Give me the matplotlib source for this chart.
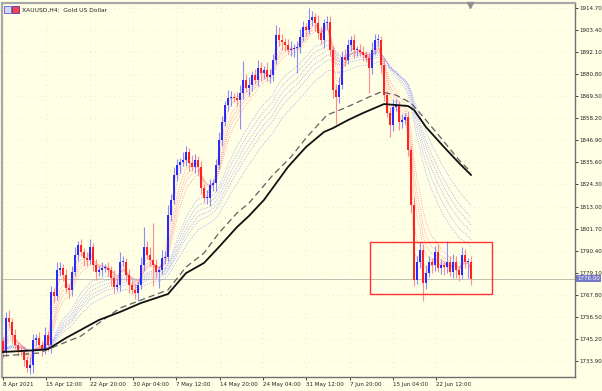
import matplotlib
matplotlib.use("Agg")
import matplotlib.pyplot as plt
import matplotlib.patches as patches
import pandas as pd

closes = [
    1738.5, 1755.9, 1753.9, 1747.2, 1742.1, 1739.5, 1738.5, 1734.4, 1730.3, 1731.8,
    1744.6, 1745.7, 1742.1, 1739.5, 1747.2, 1742.1, 1769.2, 1767.2, 1780.5, 1781.5,
    1777.9, 1771.3, 1770.3, 1779.5, 1788.2, 1793.3, 1789.7, 1786.6, 1785.6, 1792.3,
    1783.1, 1779.5, 1780.5, 1781.5, 1781.5, 1780.5, 1776.4, 1771.8, 1772.8, 1784.6,
    1784.6, 1777.9, 1772.8, 1770.3, 1768.7, 1772.8, 1783.1, 1792.3, 1788.2, 1785.6,
    1783.1, 1779.5, 1780.5, 1786.6, 1787.2, 1808.7, 1816.4, 1829.2, 1834.3, 1835.8,
    1836.8, 1840.9, 1835.3, 1833.3, 1836.8, 1833.3, 1822.5, 1817.4, 1817.4, 1824.0,
    1825.1, 1834.3, 1847.1, 1856.3, 1865.0, 1868.6, 1869.1, 1868.6, 1867.6, 1871.2,
    1877.8, 1873.7, 1875.3, 1880.4, 1877.8, 1884.0, 1881.4, 1882.9, 1879.4, 1880.4,
    1888.1, 1900.9, 1898.3, 1897.3, 1895.7, 1893.2, 1893.7, 1894.2, 1894.7, 1899.8,
    1905.0, 1903.4, 1908.6, 1910.1, 1907.0, 1901.9, 1898.3, 1907.0, 1907.5, 1893.2,
    1872.7, 1869.1, 1875.3, 1889.6, 1888.1, 1895.7, 1898.3, 1893.2, 1893.2, 1892.2,
    1890.6, 1889.1, 1884.0, 1893.2, 1898.3, 1898.3, 1885.5, 1870.1, 1860.9, 1854.8,
    1864.0, 1865.0, 1856.3, 1857.3, 1858.9, 1842.0, 1813.8, 1775.4, 1784.6, 1790.7,
    1773.8, 1779.0, 1784.6, 1783.1, 1789.7, 1781.5, 1783.1, 1782.0, 1784.6, 1779.5,
    1784.6, 1780.5, 1777.9, 1788.2, 1784.6, 1784.6, 1776.0,
]
first_open = 1744.0

# wick lengths above / below the body (USD)
wick_up = [
    2, 3, 4, 2, 3, 1, 2, 3, 2, 4,
    3, 2, 3, 2, 4, 2, 3, 2, 4, 3,
    2, 3, 2, 3, 4, 2, 3, 2, 3, 4,
    2, 3, 2, 3, 2, 3, 2, 4, 3, 5,
    3, 2, 3, 2, 3, 2, 4, 10, 3, 4,
    19, 3, 2, 4, 3, 5, 3, 4, 3, 2,
    4, 3, 2, 4, 3, 2, 3, 2, 4, 3,
    2, 3, 4, 3, 2, 4, 3, 2, 3, 4,
    10, 3, 4, 2, 3, 4, 3, 2, 4, 3,
    3, 5, 4, 3, 2, 3, 4, 2, 3, 4,
    3, 2, 6, 3, 2, 4, 3, 2, 3, 3,
    2, 3, 4, 3, 4, 3, 2, 3, 2, 3,
    3, 2, 3, 4, 3, 3, 2, 3, 2, 3,
    4, 3, 2, 3, 2, 3, 2, 4, 3, 4,
    3, 4, 3, 2, 3, 4, 3, 2, 11, 3,
    4, 3, 2, 4, 3, 2, 3,
]
wick_dn = [
    3, 2, 3, 4, 2, 3, 2, 3, 2, 3,
    4, 3, 2, 3, 2, 3, 4, 3, 2, 3,
    3, 2, 4, 3, 2, 3, 2, 4, 3, 2,
    3, 4, 2, 3, 2, 3, 4, 3, 2, 3,
    2, 3, 4, 2, 3, 4, 2, 3, 2, 3,
    11, 3, 8, 2, 3, 2, 3, 2, 3, 4,
    2, 3, 4, 2, 3, 4, 3, 2, 3, 4,
    3, 4, 2, 3, 2, 3, 4, 2, 3, 15,
    3, 2, 4, 3, 2, 3, 4, 3, 2, 3,
    3, 2, 3, 4, 3, 2, 3, 4, 13, 3,
    2, 3, 2, 3, 4, 3, 2, 4, 3, 3,
    4, 14, 3, 2, 3, 2, 3, 4, 3, 2,
    3, 2, 13, 3, 2, 3, 4, 3, 2, 6,
    3, 2, 4, 3, 2, 3, 4, 3, 2, 3,
    9, 3, 2, 4, 3, 2, 3, 4, 3, 2,
    3, 4, 3, 2, 3, 8, 3,
]

# the two long moving averages (read at a few bars)
ma_bars = [0, 12, 15, 21, 32, 39, 46, 55, 61, 67, 72, 78, 82, 87, 95, 101, 107, 110, 115, 120, 127, 135, 137, 141, 147, 152, 156]
ma_solid = [1738.5, 1739.5, 1740.0, 1745.7, 1754.9, 1759.0, 1763.6, 1768.2, 1778.9, 1784.1, 1792.3, 1802.5, 1808.2,
            1816.4, 1833.3, 1843.5, 1851.2, 1853.2, 1857.3, 1860.9, 1865.5, 1864.5, 1862.5, 1853.7, 1843.5, 1835.3, 1829.2]
ma_dash_bars = [0, 12, 26, 32, 39, 46, 55, 61, 67, 72, 78, 82, 90, 96, 101, 108, 114, 122, 126, 131, 136, 139, 146, 152, 156]
ma_dash = [1736.5, 1738.0, 1746.7, 1753.4, 1761.0, 1765.1, 1770.3, 1782.0, 1789.2, 1799.5, 1809.7, 1814.8, 1829.2,
           1838.4, 1848.1, 1859.9, 1863.5, 1869.1, 1871.7, 1870.1, 1866.0, 1860.9, 1848.1, 1836.8, 1830.7]

# guppy style EMA fans (periods in real H4 bars)
short_periods = [3, 5, 8, 10, 12, 15]
long_periods = [30, 35, 40, 45, 50, 60]
bars_per_candle = 1.6

# marked consolidation box
box_bars = (122.3, 163.0)
box_prices = (1768.2, 1794.8)

x_labels = ['8 Apr 2021', '15 Apr 12:00', '22 Apr 20:00', '30 Apr 04:00', '7 May 12:00', '14 May 20:00',
            '24 May 04:00', '31 May 12:00', '7 Jun 20:00', '15 Jun 04:00', '22 Jun 12:00']
bars_per_label = 14.45
y_ticks = [1733.90 + 11.30 * k for k in range(17)]

bg = '#ffffe6'
fig = plt.figure(figsize=(6.02, 3.91), dpi=100, facecolor=bg)
ax = fig.add_axes([2 / 602, 14 / 391, 573 / 602, 374 / 391], facecolor=bg)

n = len(closes)
x = list(range(n))
opens = [first_open] + closes[:-1]
s = pd.Series(closes)

# fans
for p in long_periods:
    ax.plot(x, s.ewm(span=max(p / bars_per_candle, 1), adjust=False).mean(), color='#8080ff',
            lw=0.5, ls=(0, (1, 1.8)), zorder=1)
for p in short_periods:
    ax.plot(x, s.ewm(span=max(p / bars_per_candle, 1), adjust=False).mean(), color='#ff7070',
            lw=0.5, ls=(0, (1, 1.8)), zorder=1)

# candles
for i in x:
    o, c = opens[i], closes[i]
    up = c >= o
    col = '#2a2aff' if up else '#ff2222'
    wcol = '#8c8cff' if up else '#ff8c8c'
    hi = max(o, c) + wick_up[i]
    lo = min(o, c) - wick_dn[i]
    ax.vlines(i, lo, hi, color=wcol, lw=0.8, zorder=2)
    ax.bar(i, max(abs(c - o), 0.6), bottom=min(o, c), width=0.7, color=col, lw=0, zorder=3)

ax.plot(ma_dash_bars, ma_dash, color='#606060', lw=0.9, ls=(0, (5, 3)), zorder=4)
ax.plot(ma_bars, ma_solid, color='#111111', lw=1.3, zorder=5, solid_joinstyle='round')

# bid line
ax.axhline(closes[-1], color='#b4b4a8', lw=0.6, zorder=0)

ax.add_patch(patches.Rectangle((box_bars[0], box_prices[0]), box_bars[1] - box_bars[0],
                               box_prices[1] - box_prices[0], fill=False, ec='#ff3030', lw=1.0, zorder=6))

ax.set_xlim(-0.33, 190.67)
ax.set_ylim(1725.7, 1917.26)

ax.yaxis.tick_right()
ax.set_yticks(y_ticks)
ax.set_yticklabels(['%.2f' % v for v in y_ticks])
ax.tick_params(axis='y', labelsize=4.0, length=2, pad=0.8, colors='#202020', width=0.6)
xt = [i * bars_per_label for i in range(len(x_labels))]
ax.set_xticks(xt)
ax.set_xticklabels(x_labels, ha='left')
ax.tick_params(axis='x', labelsize=4.0, length=2, pad=1.5, colors='#202020', width=0.6)
ax.grid(True, color='#d6d6c4', lw=0.5, ls=(0, (1, 6)))

for side in ['left', 'top']:
    ax.spines[side].set_color('#a8a8a8')
    ax.spines[side].set_linewidth(1.6)
for side in ['right', 'bottom']:
    ax.spines[side].set_color('#707070')
    ax.spines[side].set_linewidth(1.0)

# bid label on the price scale
ax.text(1.004, closes[-1], '%.2f' % closes[-1], transform=ax.get_yaxis_transform(), fontsize=4.0,
        color='white', va='center', ha='left',
        bbox=dict(boxstyle='square,pad=0.15', fc='#7878c8', ec='none'))

# header
fig.patches.append(patches.Rectangle((4 / 602, 1 - 13 / 391), 7 / 602, 7 / 391, transform=fig.transFigure,
                                     fc='#d8d8ff', ec='#4040c0', lw=0.5))
fig.patches.append(patches.Rectangle((12 / 602, 1 - 13 / 391), 7 / 602, 7 / 391, transform=fig.transFigure,
                                     fc='#ff4040', ec='#2020c0', lw=0.5))
fig.text(22 / 602, 1 - 10 / 391, 'XAUUSD,H4:  Gold US Dollar', fontsize=4.3, va='center', ha='left', color='#202020')
ax.plot([155.7], [1916.3], marker='v', color='#909090', ms=4, clip_on=False, zorder=7)

fig.savefig('out.png', dpi=100, facecolor=bg)
